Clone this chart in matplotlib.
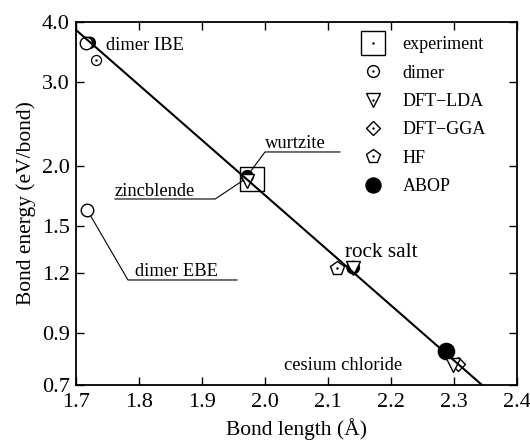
import numpy as np
import matplotlib
matplotlib.use("Agg")
import matplotlib.pyplot as plt
from matplotlib.lines import Line2D

plt.rcParams['font.family'] = ['Liberation Serif', 'DejaVu Serif']
plt.rcParams['mathtext.fontset'] = 'stix'

# Bond lengths (Å) and bond energies (eV/bond) per method
experiment_r = [1.979]
experiment_E = [1.886]

dimer_exp_r = [1.716, 1.718]          # dimer IBE / EBE reference values
dimer_exp_E = [3.62, 1.62]

dimer_r = [1.731]
dimer_E = [3.33]

lda_r = [1.971, 2.140, 2.299]
lda_E = [1.865, 1.225, 0.771]

gga_r = [2.307]
gga_E = [0.773]

hf_r = [2.115]
hf_E = [1.228]

abop_r = [1.722, 1.972, 2.140, 2.288]
abop_E = [3.62, 1.905, 1.23, 0.822]

# Pauling-type fit: E = E_ref * exp(-beta * (r - r_ref))
fit_r_ref = 1.70
fit_E_ref = 3.85
fit_beta = 2.645
fit_r_end = 2.344

x_ticks = [1.7, 1.8, 1.9, 2.0, 2.1, 2.2, 2.3, 2.4]
y_ticks = [0.7, 0.9, 1.2, 1.5, 2.0, 3.0, 4.0]

fig = plt.figure(figsize=(5.3, 4.45), dpi=100)
ax = fig.add_axes([76/530, 1-385/445, (517-76)/530, (385-22)/445])
ax.set_yscale('log')
ax.set_xlim(1.7, 2.4)
ax.set_ylim(0.7, 4.0)

ax.set_xticks(x_ticks)
ax.set_xticklabels([f"{v:.1f}" for v in x_ticks])
ax.set_yticks(y_ticks)
ax.set_yticklabels([f"{v:.1f}" for v in y_ticks])
ax.yaxis.set_minor_locator(matplotlib.ticker.NullLocator())
ax.tick_params(direction='in', length=6, width=1.0, top=True, right=True,
               labelsize=16)
ax.tick_params(axis='x', pad=5.5)
ax.tick_params(axis='y', pad=4.5)
for s in ax.spines.values():
    s.set_linewidth(1.3)

ax.set_xlabel('Bond length (Å)', fontsize=15.5, labelpad=5)
ax.set_ylabel('Bond energy (eV/bond)', fontsize=15.5, labelpad=4)

# fitted line
rr = np.linspace(fit_r_ref, fit_r_end, 50)
ax.plot(rr, fit_E_ref*np.exp(-fit_beta*(rr-fit_r_ref)), color='black', lw=1.5, zorder=6)

dot_kw = dict(marker='.', ms=1.5, color='black', ls='none', zorder=5)

abop_ms = [9, 9.5, 10, 12.7]
ax.scatter(abop_r, abop_E, s=np.square(abop_ms), color='black', zorder=2, linewidths=0)
ax.plot(dimer_exp_r, dimer_exp_E, 'o', ms=9, mfc='white', mec='black', mew=1.0, ls='none', zorder=4)
ax.plot(dimer_r, dimer_E, 'o', ms=7.2, mfc='white', mec='black', mew=0.9, ls='none', zorder=4)
ax.plot(dimer_r, dimer_E, **dot_kw)
ax.plot(lda_r, lda_E, 'v', ms=10, mfc='white', mec='black', mew=1.0, ls='none', zorder=4)
ax.plot(gga_r, gga_E, 'D', ms=7, mfc='white', mec='black', mew=1.0, ls='none', zorder=3)
ax.plot(hf_r, hf_E, 'p', ms=10.5, mfc='white', mec='black', mew=1.0, ls='none', zorder=3)
ax.plot(hf_r, hf_E, **dot_kw)
ax.plot(experiment_r, experiment_E, 's', ms=17, mfc='none', mec='black', mew=1.0, ls='none', zorder=4)

# annotations with leader lines
ann_size = 13.3

def leader(text, xy, elbow, end, txt_xy):
    ax.plot([xy[0], elbow[0], end[0]], [xy[1], elbow[1], end[1]],
            color='black', lw=0.8, zorder=1)
    ax.text(txt_xy[0], txt_xy[1], text, fontsize=ann_size, ha='left', va='baseline')

ax.text(1.7476, 3.50, 'dimer IBE', fontsize=ann_size, va='baseline', ha='left')
leader('wurtzite', (1.973, 1.92), (2.0, 2.143), (2.119, 2.143), (2.0, 2.18))
leader('zincblende', (1.968, 1.88), (1.921, 1.71), (1.762, 1.71), (1.762, 1.737))
leader('dimer EBE', (1.718, 1.62), (1.7825, 1.159), (1.9556, 1.159), (1.7937, 1.181))
ax.text(2.127, 1.297, 'rock salt', fontsize=15.3, ha='left', va='baseline')
ax.text(2.030, 0.752, 'cesium chloride', fontsize=ann_size, ha='left', va='baseline')

# legend with centre dots in the open symbols
def sym(m, ms, filled=False):
    if filled:
        return Line2D([], [], marker=m, ms=ms, color='black', ls='none')
    return Line2D([], [], marker=m, ms=ms, mfc='white', mec='black', mew=1.0, ls='none')

dot = Line2D([], [], marker='.', ms=1.5, color='black', ls='none')
handles = [(sym('s', 17), dot), (sym('o', 8.5), dot), (sym('v', 9.5), dot),
           (sym('D', 7), dot), (sym('p', 10), dot), sym('o', 10.8, filled=True)]
labels = ['experiment', 'dimer', 'DFT−LDA', 'DFT−GGA', 'HF', 'ABOP']
ax.legend(handles, labels, loc='upper left', bbox_to_anchor=(0.618, 0.99),
          frameon=False, fontsize=13, labelspacing=0.625, handlelength=1.5,
          handletextpad=0.9, borderaxespad=0.2)

fig.savefig('out.png', dpi=100)
